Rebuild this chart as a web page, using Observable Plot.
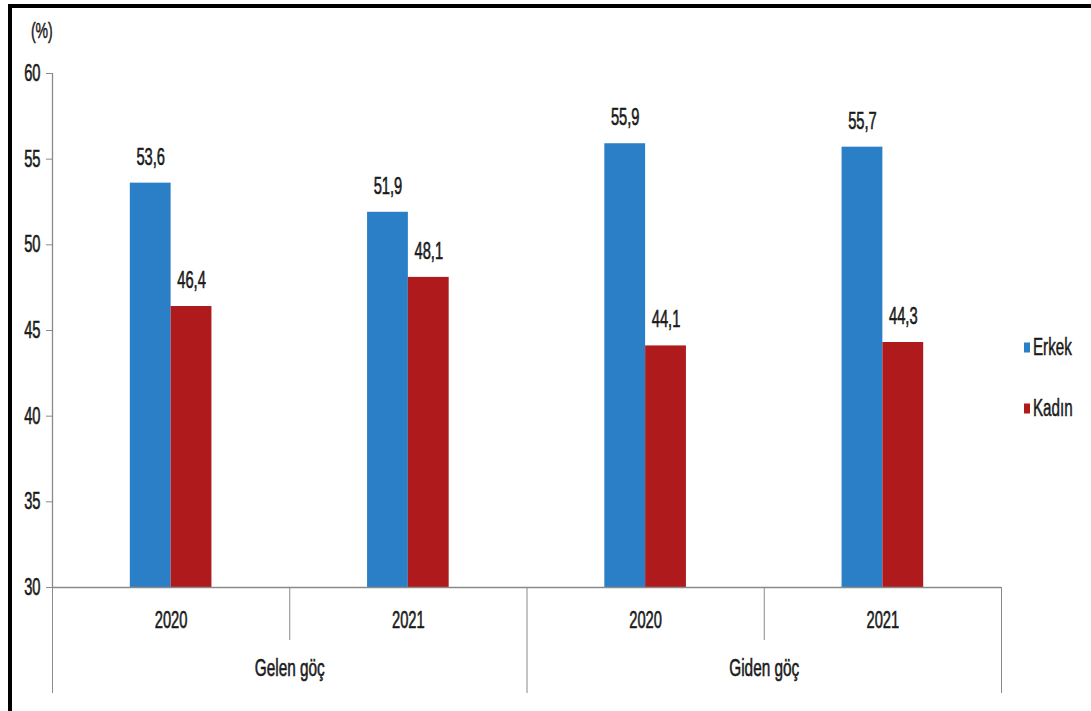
<!DOCTYPE html>
<html>
<head>
<meta charset="utf-8">
<script src="https://cdn.jsdelivr.net/npm/d3@7"></script>
<script src="https://cdn.jsdelivr.net/npm/@observablehq/plot@0.6"></script>
<style>
  html, body { margin: 0; padding: 0; background: #fff; overflow: hidden; }
  #wrap { position: relative; width: 1091px; height: 711px; font-family: "Liberation Sans", Arial, sans-serif; color: #1a1a1a; }
  #chart { position: absolute; left: 0; top: 0; }
  #chart svg text { stroke: #1a1a1a; stroke-width: 0.6px; }
  #frame { position: absolute; left: 8px; top: 4px; width: 1200px; height: 800px; border-left: 4px solid #000; border-top: 4px solid #000; pointer-events: none; }
  #unit { position: absolute; left: 48px; top: 31px; font-size: 22px; line-height: 1; }
  #unit span { display: inline-block; transform: translate(-50%, -50%) scaleX(0.64); transform-origin: 0 0; -webkit-text-stroke: 0.5px #1a1a1a; }
  .lg { position: absolute; left: 1024px; font-size: 23px; line-height: 1; display: flex; align-items: center; transform: translateY(-50%); }
  .lg span.sw { display: inline-block; width: 6px; height: 10px; margin-right: 3px; }
  .lg span.tx { display: inline-block; transform: scaleX(0.66); transform-origin: 0 50%; -webkit-text-stroke: 0.5px #1a1a1a; }
</style>
</head>
<body>
<div id="wrap">
  <div id="chart"></div>
  <div id="unit"><span>(%)</span></div>
  <div id="legend"></div>
  <div id="frame"></div>
</div>
<script>
// ---- data ----
const groups = ["Gelen göç", "Gelen göç", "Giden göç", "Giden göç"];
const years = ["2020", "2021", "2020", "2021"];
const erkek = [53.6, 51.9, 55.9, 55.7];
const kadin = [46.4, 48.1, 44.1, 44.3];
const series = ["Erkek", "Kadın"];
const seriesColors = ["#2B7FC7", "#AF1B1D"];
const yTicks = [30, 35, 40, 45, 50, 55, 60];
const yDomain = [30, 60];
const unitLabel = "(%)";

// ---- table ----
const rows = [];
years.forEach((yr, i) => {
  rows.push({i, sex: series[0], value: erkek[i]});
  rows.push({i, sex: series[1], value: kadin[i]});
});
const nCat = years.length;
const barW = 0.172; // bar width as a fraction of one category slot
const x1 = d => d.i + 0.5 - (d.sex === series[0] ? barW : 0);
const x2 = d => d.i + 0.5 + (d.sex === series[0] ? 0 : barW);
const xc = d => (x1(d) + x2(d)) / 2;

const catCenters = d3.range(nCat).map(i => i + 0.5);
const innerBounds = d3.range(1, nCat).filter(i => groups[i] === groups[i - 1]);
const outerBounds = d3.range(0, nCat + 1).filter(i => i === 0 || i === nCat || groups[i] !== groups[i - 1]);
const groupNames = Array.from(new Set(groups));
const groupCenters = groupNames.map(g => {
  const idx = d3.range(nCat).filter(i => groups[i] === g);
  return (d3.min(idx) + d3.max(idx) + 1) / 2;
});

const fontFam = '"Liberation Sans", Arial, sans-serif';
const axisGray = "#8a8a8a";
const txt = "#1a1a1a";
const fs = 23;

const chart = Plot.plot({
  width: 1091,
  height: 711,
  marginLeft: 52,
  marginRight: 90,
  marginTop: 73,
  marginBottom: 124,
  style: {fontFamily: fontFam, fontSize: fs + "px", color: txt, background: "transparent"},
  x: {type: "linear", domain: [0, nCat], axis: null},
  y: {domain: yDomain, axis: null},
  color: {domain: series, range: seriesColors},
  marks: [
    Plot.rectY(rows, {x1, x2, y1: yDomain[0], y2: "value", fill: "sex"}),
    Plot.text(rows, {x: xc, y: "value", text: d => d.value.toFixed(1).replace(".", ","), lineAnchor: "middle", dy: -26, fontSize: fs, fill: txt}),
    Plot.ruleX([0], {y1: yDomain[0], y2: yDomain[1], stroke: axisGray, strokeWidth: 1.3}),
    Plot.ruleY([yDomain[0]], {stroke: axisGray, strokeWidth: 1.3}),
    Plot.axisY({ticks: yTicks, tickSize: 6, tickPadding: 6, label: null, stroke: axisGray, fill: txt, fontSize: fs}),
    Plot.axisX({ticks: innerBounds, tickSize: 53, tickFormat: () => "", label: null, stroke: axisGray}),
    Plot.axisX({ticks: outerBounds, tickSize: 106, tickFormat: () => "", label: null, stroke: axisGray}),
    Plot.axisX({ticks: catCenters, tickSize: 0, tickPadding: 24, tickFormat: v => years[Math.floor(v)], label: null, fill: txt, fontSize: fs}),
    Plot.axisX({ticks: groupCenters, tickSize: 0, tickPadding: 71, tickFormat: v => groupNames[groupCenters.indexOf(v)], label: null, fill: txt, fontSize: fs + 1})
  ]
});
document.getElementById("chart").appendChild(chart);

// narrow the SVG text horizontally (condensed look of the original)
const squeeze = 0.64;
chart.querySelectorAll("text").forEach(t => {
  if (!t.textContent) return;
  const anchor = getComputedStyle(t).textAnchor;
  const g = document.createElementNS("http://www.w3.org/2000/svg", "g");
  t.parentNode.insertBefore(g, t);
  g.appendChild(t);
  const b = g.getBBox();
  const cx = anchor === "end" ? b.x + b.width : anchor === "start" ? b.x : b.x + b.width / 2;
  g.setAttribute("transform", `translate(${cx},0) scale(${squeeze},1) translate(${-cx},0)`);
});

document.querySelector("#unit span").textContent = unitLabel;

// ---- legend ----
const legend = document.getElementById("legend");
const legendY = [347, 408];
series.forEach((s, k) => {
  const el = document.createElement("div");
  el.className = "lg";
  el.style.top = legendY[k] + "px";
  el.innerHTML = `<span class="sw" style="background:${seriesColors[k]}"></span><span class="tx">${s}</span>`;
  legend.appendChild(el);
});
</script>
</body>
</html>
